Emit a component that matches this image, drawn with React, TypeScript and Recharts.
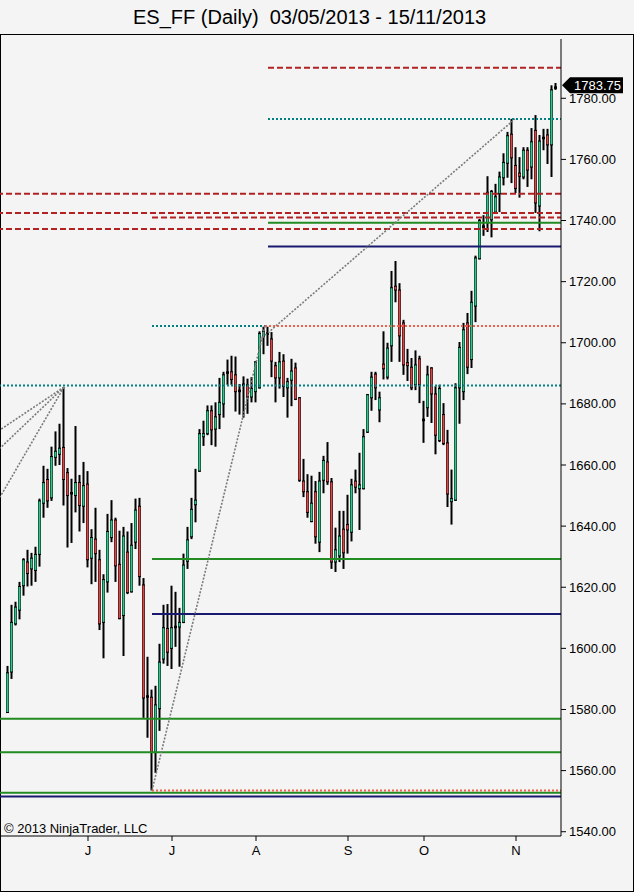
import { Bar, ComposedChart, ReferenceLine, XAxis, YAxis } from "recharts";

// daily ES bars, 03/05/2013 .. 15/11/2013 (index 0 = first bar)
const OPEN = [
  1579, 1592.25, 1608, 1612.5, 1620.5, 1628.25, 1626, 1625.5, 1630.75, 1647.5,
  1655.25, 1649.25, 1662.5, 1663.5, 1665.75, 1657.5, 1651, 1650, 1654.25, 1646.5,
  1653.75, 1629.5, 1635.75, 1629, 1608.5, 1621.75, 1636.25, 1642, 1627.5, 1610.75,
  1631.5, 1618.5, 1634.75, 1646.5, 1620.75, 1584.5, 1584, 1566, 1580.25, 1596.5,
  1606.5, 1600, 1606.75, 1607, 1608.5, 1628.5, 1636.5, 1647, 1658, 1669.25,
  1670.25, 1677.75, 1671.75, 1676.5, 1680, 1690.5, 1690.5, 1689.5, 1684.5, 1686,
  1686.25, 1682.25, 1684, 1685.25, 1702, 1703.25, 1701.25, 1692.5, 1688.5, 1694,
  1685.25, 1687.75, 1691.75, 1682, 1654.75, 1651.25, 1641.5, 1651.25, 1634.75, 1655,
  1661, 1654.5, 1628.25, 1630.25, 1639, 1640.5, 1638, 1654.75, 1652.25, 1652.25,
  1670.75, 1682, 1689.75, 1678, 1693, 1688.75, 1699, 1718.5, 1717.25, 1706.5,
  1693.5, 1692, 1686.25, 1694.75, 1675, 1678.75, 1691.75, 1683.25, 1668, 1676.5,
  1667.25, 1648, 1648.5, 1685.25, 1684, 1706.5, 1694.5, 1712, 1727.5, 1738,
  1739.25, 1740.25, 1742.75, 1748.75, 1754, 1758.75, 1768.25, 1758, 1755.5, 1754.25,
  1763, 1757.5, 1769.5, 1744.75, 1767, 1768, 1764.75, 1783.25,
];
const HIGH = [
  1594.25, 1614.25, 1615.25, 1621.75, 1629.5, 1632.25, 1631.25, 1633.25, 1649, 1659.75,
  1658.75, 1666, 1671, 1673.5, 1685.5, 1659, 1655.5, 1672.75, 1656.75, 1661,
  1658, 1639, 1646, 1632.25, 1624.25, 1644, 1648.5, 1642.75, 1638.5, 1639.75,
  1638.25, 1641, 1649, 1649.25, 1623, 1597.25, 1586.5, 1587.75, 1601.5, 1614.25,
  1614.5, 1620.5, 1618.5, 1613.25, 1631, 1639.75, 1649.25, 1658.75, 1671.75, 1674.5,
  1679.5, 1679.5, 1680.5, 1688.5, 1690.5, 1694.5, 1695.75, 1695.5, 1686.5, 1689,
  1688.25, 1688.75, 1694, 1703.75, 1705.25, 1705.25, 1703.5, 1693.75, 1697, 1696.25,
  1688.5, 1694.75, 1693.5, 1682.25, 1662, 1657, 1656.5, 1654.75, 1657.75, 1663,
  1667.5, 1655.75, 1639.5, 1645, 1645, 1650.25, 1655.5, 1658.5, 1664, 1671.75,
  1683.25, 1690.5, 1690.5, 1684, 1703.75, 1700, 1723.5, 1726.75, 1719.5, 1707.5,
  1698, 1695, 1697.5, 1695.75, 1681, 1692.5, 1692, 1685.75, 1686.25, 1680.25,
  1671.5, 1658.5, 1686.75, 1700.25, 1706.5, 1709.75, 1717, 1728.5, 1740.5, 1741.75,
  1754.5, 1750, 1752, 1756, 1762, 1769, 1773.25, 1764, 1760.75, 1764,
  1764, 1770.25, 1774.5, 1768, 1770, 1770, 1784.25, 1785,
];
const LOW = [
  1579, 1590, 1607.5, 1609.5, 1617.25, 1620.25, 1620.5, 1621.75, 1626.75, 1642.75,
  1646, 1648.25, 1659.75, 1660, 1646.75, 1633, 1634.5, 1644.5, 1638.25, 1641,
  1626.5, 1621, 1621.75, 1606, 1596.75, 1618.25, 1634.75, 1621.75, 1609.5, 1597.5,
  1617.75, 1618.25, 1632.5, 1620.5, 1577.25, 1570.75, 1553.5, 1559.25, 1573, 1595,
  1594.25, 1593.25, 1600.5, 1594, 1608.25, 1626, 1635.75, 1641.25, 1657.75, 1666.25,
  1669.75, 1666.5, 1666, 1671.75, 1675.5, 1686.25, 1686.25, 1677.5, 1676.5, 1675.5,
  1676.75, 1680.5, 1680.5, 1685, 1696.25, 1699, 1688.75, 1680.5, 1685, 1682.25,
  1675.5, 1679.25, 1681.25, 1654.5, 1649.5, 1642.75, 1641.25, 1634.25, 1631.5, 1650.75,
  1653.5, 1626, 1625, 1628.25, 1626, 1631, 1635, 1650.75, 1638.75, 1652,
  1670.5, 1677.75, 1681.25, 1674, 1688, 1688, 1693.75, 1713.25, 1693.75, 1689.5,
  1687.5, 1684.5, 1684.5, 1680.25, 1667.25, 1675.75, 1673.75, 1663.5, 1667.5, 1666.5,
  1646.25, 1640.5, 1648.25, 1673.5, 1681.25, 1689.75, 1691.75, 1706.75, 1727.25, 1735,
  1736.25, 1734.5, 1742.5, 1742.75, 1751.5, 1754, 1752.25, 1749, 1747.5, 1753.5,
  1751, 1753.5, 1742.5, 1736.5, 1763, 1758.5, 1754.25, 1782.75,
];
const CLOSE = [
  1592, 1608.5, 1613.5, 1620.25, 1629, 1624.5, 1629.5, 1630.75, 1648.25, 1654.25,
  1648.25, 1662.75, 1664.5, 1665.5, 1655.25, 1650, 1650.5, 1654.25, 1646.75, 1653.25,
  1629, 1636.25, 1631, 1608, 1622.5, 1638.25, 1642, 1627, 1609.75, 1636.75,
  1618.25, 1633.75, 1645.25, 1623.5, 1583.75, 1584, 1566, 1581.5, 1595.5, 1606.75,
  1598.75, 1606.75, 1607.25, 1608.5, 1627.25, 1635.5, 1645.5, 1648.5, 1670.25, 1670.25,
  1677.75, 1671.5, 1675.75, 1680.5, 1689.5, 1690.25, 1688, 1684, 1684, 1686.5,
  1682.25, 1685, 1693.75, 1703, 1703.75, 1703, 1694, 1688.5, 1693.75, 1685.75,
  1687.25, 1690.75, 1681.5, 1655, 1651.25, 1644.5, 1647.5, 1636.5, 1654.75, 1661.5,
  1654.5, 1628.25, 1632.25, 1636.75, 1631.25, 1638.75, 1653.5, 1652.75, 1653.5, 1669.25,
  1683, 1688.75, 1685.25, 1682, 1691.5, 1698.25, 1718, 1717.25, 1702.25, 1692.75,
  1692.5, 1685.25, 1692.75, 1686.25, 1674.5, 1689.5, 1683.25, 1669.75, 1685, 1667,
  1650.5, 1649, 1685.25, 1698.5, 1704.25, 1692, 1713.25, 1727.75, 1740, 1738.25,
  1749.25, 1749.5, 1747.75, 1754.25, 1759, 1767.75, 1760.5, 1750.5, 1754.5, 1763,
  1756.5, 1765.75, 1745.75, 1766, 1767.25, 1764.75, 1782.75, 1783.75,
];

const MONTH_TICKS = [20, 41, 62, 85, 104, 127];
const MONTH_LABELS = ["J", "J", "A", "S", "O", "N"];
const PRICE_TICKS = [1540, 1560, 1580, 1600, 1620, 1640, 1660, 1680, 1700, 1720, 1740, 1760, 1780];
const LAST_PRICE = 1783.75;

// drawn levels: full width ones, and ones starting at a bar index
const RED_FULL = [1748.75, 1742.5, 1737.25];
const RED_FROM = [{ from: 65, y: 1790 }, { from: 36, y: 1741 }];
const GREEN_FULL = [1577, 1566, 1552.75];
const GREEN_FROM = [{ from: 36, y: 1629.25 }, { from: 65, y: 1739.25 }];
const NAVY_FULL = [1551.5];
const NAVY_FROM = [{ from: 36, y: 1611.25 }, { from: 65, y: 1731.5 }];
const TEAL_FULL = [1686];
const TEAL_SPAN = [{ from: 65, to: 138.25, y: 1773.25 }, { from: 36, to: 64.25, y: 1705.5 }];
const SALMON_FROM = [{ from: 64.25, y: 1705.5 }, { from: 36, y: 1553.5 }];
const TRENDS = [
  [[14, 1685.5], [-2, 1671.5]],
  [[14, 1685.5], [-2, 1665.5]],
  [[14, 1685.5], [-2, 1649.5]],
  [[36, 1553.5], [64.25, 1705.5]],
  [[63, 1701], [126.75, 1773.25]],
];

const X_MIN = -2;
const X_MAX = 138.25;
const UP = "#34c48c";
const DOWN = "#d44a4a";
const FONT = "'Liberation Sans', Arial, sans-serif";

const rows = OPEN.map((open, i) => ({
  i,
  open,
  high: HIGH[i],
  low: LOW[i],
  close: CLOSE[i],
  range: [LOW[i], HIGH[i]],
}));

function Candle(props: any) {
  const { x, y, width, height, payload } = props;
  if (!payload) return null;
  const top = Math.min(y, y + height);
  const span = Math.abs(height);
  const k = span / (payload.high - payload.low || 1);
  const cx = x + width / 2;
  const yOpen = top + (payload.high - payload.open) * k;
  const yClose = top + (payload.high - payload.close) * k;
  const bodyTop = Math.min(yOpen, yClose);
  const bodyH = Math.max(Math.abs(yClose - yOpen), 1.5);
  return (
    <g>
      <rect x={cx - 1} y={top} width={2} height={span} fill="#000" />
      <rect x={cx - 1.5} y={bodyTop - 0.5} width={3} height={bodyH + 1} fill="#000" />
      {bodyH > 2 && (
        <rect
          x={cx - 1}
          y={bodyTop + 0.5}
          width={2}
          height={bodyH - 1}
          fill={payload.close >= payload.open ? UP : DOWN}
        />
      )}
    </g>
  );
}

function LastPriceTag(props: any) {
  const vb = props.viewBox;
  if (!vb) return null;
  const left = vb.x + vb.width + 1;
  const cy = vb.y - 1.5;
  return (
    <g>
      <polygon
        points={`${left},${cy} ${left + 8},${cy - 8} ${left + 61},${cy - 8} ${left + 61},${cy + 8} ${left + 8},${cy + 8}`}
        fill="#000"
      />
      <text x={left + 12} y={cy + 4.5} fill="#fff" fontSize={13} fontFamily={FONT}>
        {LAST_PRICE.toFixed(2)}
      </text>
    </g>
  );
}

export default function App() {
  return (
    <div
      style={{
        position: "absolute",
        left: 0,
        top: 0,
        width: 634,
        height: 892,
        background: "#f4f4f4",
        fontFamily: FONT,
        overflow: "hidden",
      }}
    >
      <div
        style={{
          position: "absolute",
          left: 133,
          top: 7,
          fontSize: 20,
          lineHeight: "20px",
          whiteSpace: "pre",
          color: "#000",
        }}
      >
        {"ES_FF (Daily)  03/05/2013 - 15/11/2013"}
      </div>
      <div
        style={{
          position: "absolute",
          left: 0,
          top: 34,
          width: 634,
          height: 858,
          border: "1px solid #000",
          boxSizing: "border-box",
        }}
      />
      <div style={{ position: "absolute", left: 0, top: 0 }}>
        <ComposedChart
          width={634}
          height={892}
          data={rows}
          margin={{ top: 39, right: 0, bottom: 0, left: 0 }}
        >
          <XAxis
            type="number"
            dataKey="i"
            domain={[X_MIN, X_MAX]}
            allowDataOverflow
            ticks={MONTH_TICKS}
            interval={0}
            tickFormatter={(v) => MONTH_LABELS[MONTH_TICKS.indexOf(v)] ?? ""}
            height={56}
            stroke="#000"
            tickSize={5}
            tickMargin={5}
            tick={{ fill: "#000", fontSize: 13 }}
          />
          <YAxis
            type="number"
            orientation="right"
            domain={[1538.6, 1799.4]}
            allowDataOverflow
            ticks={PRICE_TICKS}
            interval={0}
            tickFormatter={(v) => Number(v).toFixed(2)}
            width={73}
            stroke="#000"
            tickSize={5}
            tickMargin={3}
            tick={{ fill: "#000", fontSize: 13 }}
          />
          <Bar dataKey="range" barSize={3} shape={Candle} isAnimationActive={false} />

          {RED_FULL.map((y) => (
            <ReferenceLine key={`rf${y}`} y={y} stroke="#b22222" strokeWidth={2} strokeDasharray="6 3" />
          ))}
          {RED_FROM.map((l) => (
            <ReferenceLine
              key={`rp${l.y}`}
              segment={[{ x: l.from, y: l.y }, { x: X_MAX, y: l.y }]}
              stroke="#b22222"
              strokeWidth={2}
              strokeDasharray="6 3"
            />
          ))}
          {GREEN_FULL.map((y) => (
            <ReferenceLine key={`gf${y}`} y={y} stroke="#228b22" strokeWidth={2} />
          ))}
          {GREEN_FROM.map((l) => (
            <ReferenceLine
              key={`gp${l.y}`}
              segment={[{ x: l.from, y: l.y }, { x: X_MAX, y: l.y }]}
              stroke="#228b22"
              strokeWidth={2}
            />
          ))}
          {NAVY_FULL.map((y) => (
            <ReferenceLine key={`nf${y}`} y={y} stroke="#191970" strokeWidth={2} />
          ))}
          {NAVY_FROM.map((l) => (
            <ReferenceLine
              key={`np${l.y}`}
              segment={[{ x: l.from, y: l.y }, { x: X_MAX, y: l.y }]}
              stroke="#191970"
              strokeWidth={2}
            />
          ))}
          {TEAL_FULL.map((y) => (
            <ReferenceLine key={`tf${y}`} y={y} stroke="#008080" strokeWidth={2} strokeDasharray="2 2" />
          ))}
          {TEAL_SPAN.map((l) => (
            <ReferenceLine
              key={`tp${l.y}`}
              segment={[{ x: l.from, y: l.y }, { x: l.to, y: l.y }]}
              stroke="#008080"
              strokeWidth={2}
              strokeDasharray="2 2"
            />
          ))}
          {SALMON_FROM.map((l) => (
            <ReferenceLine
              key={`sp${l.y}`}
              segment={[{ x: l.from, y: l.y }, { x: X_MAX, y: l.y }]}
              stroke="#f4604a"
              strokeWidth={2}
              strokeDasharray="2 2"
            />
          ))}
          {TRENDS.map(([a, b], n) => (
            <ReferenceLine
              key={`tr${n}`}
              segment={[{ x: a[0], y: a[1] }, { x: b[0], y: b[1] }]}
              stroke="#7a7a7a"
              strokeWidth={1.6}
              strokeDasharray="2 1.5"
            />
          ))}
          <ReferenceLine y={LAST_PRICE} stroke="none" label={<LastPriceTag />} />
        </ComposedChart>
      </div>
      <div
        style={{
          position: "absolute",
          left: 4,
          top: 822,
          fontSize: 13,
          lineHeight: "13px",
          color: "#000",
        }}
      >
        © 2013 NinjaTrader, LLC
      </div>
    </div>
  );
}
